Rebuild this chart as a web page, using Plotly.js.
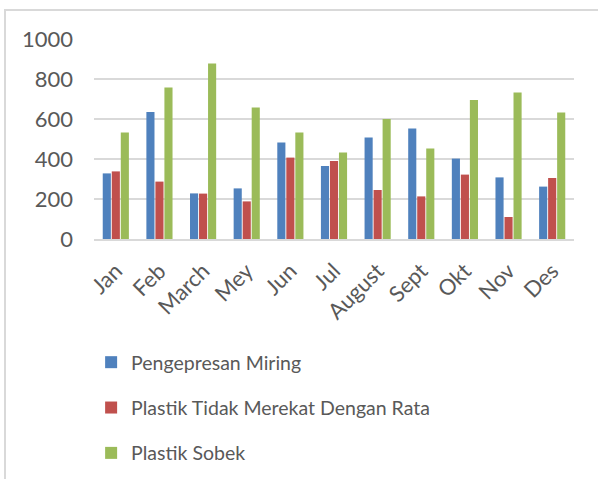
<!DOCTYPE html>
<html>
<head>
<meta charset="utf-8">
<script src="https://cdn.plot.ly/plotly-3.0.1.min.js"></script>
<style>
  html, body { margin: 0; padding: 0; background: #fff; }
  #wrap { position: relative; width: 598px; height: 479px; }
  #chart { width: 598px; height: 479px; }
  #frame {
    position: absolute; left: 4px; top: 9px; right: -2px; bottom: -2px;
    border-left: 2px solid #d9d9d9; border-top: 2px solid #d9d9d9;
    pointer-events: none;
  }
</style>
</head>
<body>
<div id="wrap">
  <div id="chart"></div>
  <div id="frame"></div>
</div>
<script>
// Monthly defect counts per defect type
const months = ['Jan', 'Feb', 'March', 'Mey', 'Jun', 'Jul', 'August', 'Sept', 'Okt', 'Nov', 'Des'];
const pengepresanMiring = [328, 635, 228, 253, 482, 365, 508, 553, 402, 308, 262];
const plastikTidakMerekat = [338, 287, 227, 188, 407, 390, 245, 213, 322, 110, 305];
const plastikSobek = [532, 757, 877, 658, 532, 433, 600, 453, 695, 732, 632];
const yTicks = [0, 200, 400, 600, 800, 1000];

const seriesNames = ['Pengepresan Miring', 'Plastik Tidak Merekat Dengan Rata', 'Plastik Sobek'];
const seriesValues = [pengepresanMiring, plastikTidakMerekat, plastikSobek];
const seriesColors = ['#4f81bd', '#c0504d', '#9bbb59'];

const font = 'Lato, Calibri, "Open Sans", sans-serif';

const traces = seriesNames.map((name, i) => ({
  type: 'bar',
  name: name,
  x: months,
  y: seriesValues[i],
  legendgroup: 'g' + i,
  marker: { color: seriesColors[i] },
  hoverinfo: 'x+y+name'
}));

const layout = {
  width: 598,
  height: 479,
  margin: { l: 94, r: 24, t: 39, b: 240, autoexpand: false },
  paper_bgcolor: '#ffffff',
  plot_bgcolor: '#ffffff',
  barmode: 'group',
  bargap: 0.38,
  bargroupgap: 0.1,
  font: { family: font, size: 20, color: '#595959' },
  xaxis: {
    type: 'category',
    tickangle: -45,
    tickfont: { family: font, size: 22, color: '#595959' },
    ticklabelstandoff: 9,
    showgrid: false,
    showline: true,
    linecolor: '#d9d9d9',
    linewidth: 1.5,
    ticks: '',
    automargin: false,
    fixedrange: true
  },
  yaxis: {
    range: [0, 1000],
    tickvals: yTicks,
    ticktext: yTicks.map(String),
    tickfont: { family: font, size: 22, color: '#595959' },
    ticklabelstandoff: 20,
    showgrid: true,
    gridcolor: '#d9d9d9',
    gridwidth: 1.5,
    zeroline: false,
    showline: false,
    ticks: '',
    ticklen: 0,
    automargin: false,
    fixedrange: true
  },
  showlegend: true,
  legend: {
    orientation: 'v',
    x: -0.006,
    xanchor: 'left',
    y: -0.52,
    yanchor: 'top',
    traceorder: 'grouped',
    tracegroupgap: 17,
    itemwidth: 30,
    font: { family: font, size: 19.5, color: '#595959' },
    bgcolor: 'rgba(0,0,0,0)'
  }
};

Plotly.newPlot('chart', traces, layout, { displayModeBar: false, staticPlot: true });
</script>
</body>
</html>
